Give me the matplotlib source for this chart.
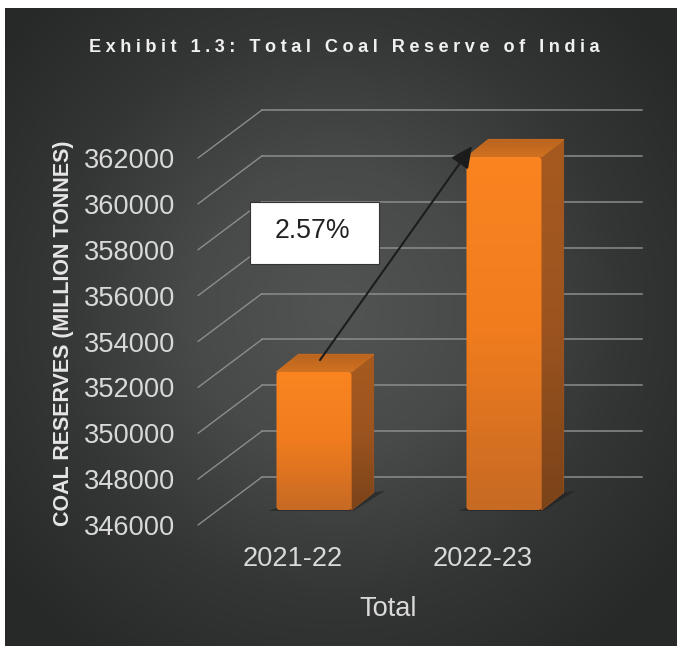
import numpy as np
import matplotlib
matplotlib.use("Agg")
import matplotlib.pyplot as plt
from matplotlib.colors import LinearSegmentedColormap
from matplotlib.patches import FancyBboxPatch, Polygon, Rectangle
from matplotlib.transforms import Affine2D, IdentityTransform

plt.rcParams['font.family'] = ['Liberation Sans', 'DejaVu Sans']

years = ["2021-22", "2022-23"]
reserves = [352020, 361390]
y_ticks = [346000, 348000, 350000, 352000, 354000, 356000, 358000, 360000, 362000]
growth_label = "2.57%"

W, H = 677, 646
LIGHT = "#d9d9d9"
GRID = "#8c8c8c"
WALL_DX, WALL_DY = 64, 48
BAR_DX, BAR_DY = 21, 15
DEPTH_DX, DEPTH_DY = 22, 17.5
BAR_WIDTH = 0.395

fig = plt.figure(figsize=(W / 100, H / 100), dpi=100, facecolor="white")

# dark panel with a lighter centre
bg = fig.add_axes([5 / W, 0, (W - 5) / W, (H - 8) / H])
bg.axis("off")
yy, xx = np.mgrid[8:H, 5:W]
dist = np.sqrt(((xx - 335) / 430) ** 2 + ((yy - 310) / 430) ** 2)
bg_cmap = LinearSegmentedColormap.from_list("panel", ["#525454", "#484a4a", "#343535", "#272828"])
bg.imshow(np.clip(dist, 0, 1), cmap=bg_cmap, vmin=0, vmax=1, aspect="auto")

ax = fig.add_axes([198 / W, 1 - 525 / H, 380 / W, 367 / H])
ax.patch.set_alpha(0)
for s in ax.spines.values():
    s.set_visible(False)
ax.set_xlim(-0.5, 1.5)
ax.set_ylim(y_ticks[0], y_ticks[-1])


def shift(dx, dy):
    return ax.transData + Affine2D().translate(dx, dy)


def to_px(x, y, dx=0, dy=0):
    px = ax.transData.transform((x, y))
    return (px[0] + dx, px[1] + dy)


def shaded_face(points, colors, z):
    # polygon in pixels, filled with a vertical gradient, soft round corners
    poly = Polygon(points, closed=True, transform=IdentityTransform(),
                   facecolor="none", edgecolor=colors[1], lw=0.8, joinstyle="round",
                   zorder=z, clip_on=False)
    ax.add_patch(poly)
    pts = np.array(points)
    cm = LinearSegmentedColormap.from_list("f", colors)
    im = ax.imshow(np.linspace(0, 1, 64).reshape(-1, 1), cmap=cm, aspect="auto", zorder=z,
                   extent=(pts[:, 0].min(), pts[:, 0].max(), pts[:, 1].min(), pts[:, 1].max()),
                   transform=IdentityTransform(), origin="upper")
    im.set_clip_box(fig.bbox)
    im.set_clip_path(poly)


# walls: diagonal on the side, flat lines along the back
for t in y_ticks:
    a = to_px(-0.5, t)
    b = to_px(-0.5, t, WALL_DX, WALL_DY)
    ax.plot([a[0], b[0]], [a[1], b[1]], color=GRID, lw=1.0, transform=IdentityTransform(),
            clip_on=False, zorder=1, solid_capstyle="round")
    ax.plot([-0.5, 1.5], [t, t], color=GRID, lw=1.1, transform=shift(WALL_DX, WALL_DY),
            clip_on=False, zorder=1)

base = y_ticks[0]
for i, val in enumerate(reserves):
    left = i - BAR_WIDTH / 2
    right = i + BAR_WIDTH / 2
    bl = to_px(left, base, BAR_DX, BAR_DY)
    br = to_px(right, base, BAR_DX, BAR_DY)
    tl = to_px(left, val, BAR_DX, BAR_DY)
    tr = to_px(right, val, BAR_DX, BAR_DY)
    d = (DEPTH_DX, DEPTH_DY)

    # floor shadow
    ax.add_patch(Polygon([(bl[0] - 8, bl[1] - 1), (br[0] + 2, br[1] - 1),
                          (br[0] + d[0] + 12, br[1] + d[1] + 2), (br[0] + d[0], br[1] + d[1]),
                          (bl[0], bl[1] + 2)],
                         closed=True, transform=IdentityTransform(), facecolor="#1e1e1e",
                         edgecolor="none", alpha=0.55, zorder=2, clip_on=False))

    shaded_face([tr, (tr[0] + d[0], tr[1] + d[1]), (br[0] + d[0], br[1] + d[1]), br],
                ["#a65a1e", "#9c5420", "#7a4318"], 3)
    shaded_face([tl, tr, (tr[0] + d[0], tr[1] + d[1]), (tl[0] + d[0], tl[1] + d[1])],
                ["#b9641f", "#d0711f"], 3)

    bar = ax.bar(i, val - base, BAR_WIDTH, bottom=base, color="none",
                 transform=shift(BAR_DX, BAR_DY), clip_on=False, zorder=4)[0]
    front_cm = LinearSegmentedColormap.from_list("front", ["#f98420", "#f07c1e", "#c76a24"])
    im = ax.imshow(np.linspace(0, 1, 64).reshape(-1, 1), cmap=front_cm, aspect="auto", zorder=4,
                   extent=(left, right, base, val), transform=shift(BAR_DX, BAR_DY), origin="upper")
    # gradient front face with small rounded corners
    rounded = FancyBboxPatch(bl, br[0] - bl[0], tl[1] - bl[1], boxstyle="round,pad=0,rounding_size=3",
                             transform=IdentityTransform())
    im.set_clip_box(fig.bbox)
    im.set_clip_path(rounded)

ax.set_xlim(-0.5, 1.5)
ax.set_ylim(y_ticks[0], y_ticks[-1])

ax.set_yticks(y_ticks)
ax.set_yticklabels([str(t) for t in y_ticks], fontsize=19.6, color=LIGHT)
ax.set_xticks(range(len(years)))
ax.set_xticklabels(years, fontsize=19.6, color=LIGHT)
ax.tick_params(axis="y", length=0, pad=16.5)
ax.tick_params(axis="x", length=0, pad=15)

ax.set_xlabel("Total", fontsize=19.6, color=LIGHT, labelpad=17.5)
ax.set_ylabel("COAL RESERVES (MILLION TONNES)", fontsize=15.5, fontweight="bold", color="#e6e6e6")
ax.yaxis.set_label_coords((74 - 198) / 380, (525 - 333.5) / 367)

title = "Exhibit 1.3: Total Coal Reserve of India"
fig.text(344 / W, 1 - 47 / H, "\u200a\u200a\u200a".join(title), fontsize=13.1, fontweight="bold",
         color="#f0f0f0", ha="center", va="center")

# growth arrow from the first bar to the second, with its callout
ax.annotate("", xy=(0.942, 362520), xytext=(0.142, 353190), annotation_clip=False, zorder=6,
            arrowprops=dict(arrowstyle="-|>,head_length=1.3,head_width=0.62", color="#1c1c1c",
                            lw=1.5, shrinkA=0, shrinkB=0))
fig.add_artist(Rectangle((250 / W, 1 - 264 / H), 129 / W, 62 / H, transform=fig.transFigure,
                         facecolor="white", edgecolor="#333333", lw=0.8, zorder=7))
fig.text(312 / W, 1 - 231 / H, growth_label, fontsize=19.2, color="#222222",
         ha="center", va="center", zorder=8)

fig.savefig("out.png", dpi=100)
plt.close(fig)
